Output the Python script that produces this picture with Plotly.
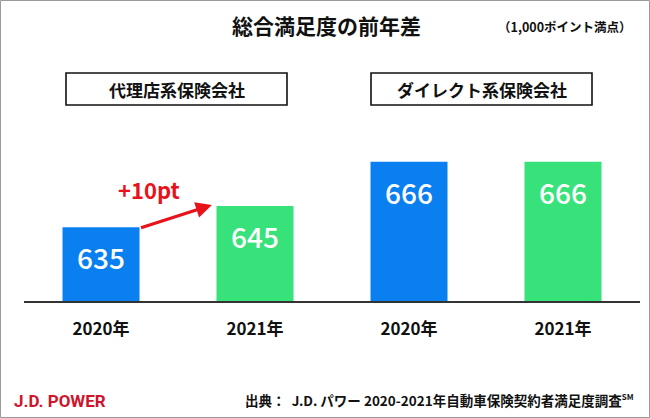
import plotly.graph_objects as go

# ---- data ----
groups = ["代理店系保険会社", "ダイレクト系保険会社"]
years = ["2020年", "2021年", "2020年", "2021年"]
scores = [635, 645, 666, 666]
bar_colors = ["#0a80f0", "#37e27b", "#0a80f0", "#37e27b"]
title_text = "総合満足度の前年差"
unit_text = "（1,000ポイント満点）"
source_text = ("出典：  J.D. パワー 2020-2021年自動車保険契約者満足度調査"
               "<sup><span style='font-size:8px'>SM</span></sup>")
brand_text = "J.D. POWER"

W, H = 650, 418
L, R, T, B = 24, 10, 90, 117
FONT = "Noto Sans CJK JP, Noto Sans, sans-serif"
BAR_W = 0.5


def px_x(p):
    return (p - L) / (W - L - R)


def px_y(p):
    return (H - B - p) / (H - T - B)


xs = list(range(len(scores)))

fig = go.Figure()
fig.add_trace(go.Bar(
    x=xs, y=scores, width=BAR_W,
    marker=dict(color=bar_colors, line=dict(width=0)),
    hoverinfo="skip", showlegend=False,
))

annotations = []
# value labels inside bars
for x, v in zip(xs, scores):
    annotations.append(dict(
        x=x, y=v, xref="x", yref="y", text=str(v), showarrow=False,
        yshift=-30, yanchor="middle", xanchor="center",
        font=dict(family=FONT, size=28, color="white", weight=500),
    ))

# arrow from 2020 to 2021 (first group)
annotations.append(dict(
    x=xs[1] - BAR_W / 2 - 0.03, y=scores[1] + 0.5, xref="x", yref="y",
    ax=xs[0] + BAR_W / 2, ay=scores[0] - 0.5, axref="x", ayref="y",
    showarrow=True, arrowhead=2, arrowsize=1.0, arrowwidth=3.2,
    arrowcolor="#e8121a", text="",
))
annotations.append(dict(
    x=px_x(149), y=px_y(189), xref="paper", yref="paper",
    text=f"+{scores[1] - scores[0]}pt", showarrow=False,
    xanchor="center", yanchor="middle",
    font=dict(family=FONT, size=22, color="#e8121a", weight="bold"),
))

# title / unit
annotations.append(dict(
    x=px_x(326), y=px_y(25), xref="paper", yref="paper", text=title_text,
    showarrow=False, xanchor="center", yanchor="middle",
    font=dict(family=FONT, size=21, color="#111111", weight="bold"),
))
annotations.append(dict(
    x=px_x(634), y=px_y(26), xref="paper", yref="paper", text=unit_text,
    showarrow=False, xanchor="right", yanchor="middle",
    font=dict(family=FONT, size=12.5, color="#111111", weight="bold"),
))

# group boxes
shapes = []
box_px = [(66, 287), (371, 592)]
for g, (x0, x1) in zip(groups, box_px):
    shapes.append(dict(
        type="rect", xref="paper", yref="paper",
        x0=px_x(x0), x1=px_x(x1), y0=px_y(105), y1=px_y(73),
        line=dict(color="#111111", width=1.6), fillcolor="white",
    ))
    annotations.append(dict(
        x=px_x((x0 + x1) / 2), y=px_y(89), xref="paper", yref="paper",
        text=g, showarrow=False, xanchor="center", yanchor="middle",
        font=dict(family=FONT, size=17, color="#111111", weight="bold"),
    ))

# footer
annotations.append(dict(
    x=px_x(12), y=px_y(401), xref="paper", yref="paper", text=brand_text,
    showarrow=False, xanchor="left", yanchor="middle",
    font=dict(family="Roboto, sans-serif", size=17,
              color="#d0142c", weight="bold"),
))
annotations.append(dict(
    x=px_x(636), y=px_y(400), xref="paper", yref="paper", text=source_text,
    showarrow=False, xanchor="right", yanchor="middle",
    font=dict(family=FONT, size=13.5, color="#111111", weight="bold"),
))

# outer border
shapes.append(dict(
    type="rect", xref="paper", yref="paper",
    x0=px_x(0.5), x1=px_x(649.5), y0=px_y(417.5), y1=px_y(0.5),
    line=dict(color="#9a9a9a", width=1),
))

fig.update_layout(
    width=W, height=H,
    margin=dict(l=L, r=R, t=T, b=B),
    paper_bgcolor="white", plot_bgcolor="white",
    xaxis=dict(
        range=[-0.5, 3.5], tickvals=xs, ticktext=years,
        showline=True, linecolor="#333333", linewidth=1.5,
        showgrid=False, zeroline=False,
        ticks="outside", ticklen=12, tickcolor="rgba(0,0,0,0)",
        tickfont=dict(family=FONT, size=17, color="#111111", weight="bold"),
    ),
    yaxis=dict(range=[600, 700], visible=False, showgrid=False, zeroline=False),
    annotations=annotations,
    shapes=shapes,
    bargap=0.5,
)

fig.write_html(
    "out.html",
    config={"displayModeBar": False},
    post_script="document.body.style.margin='0';document.body.style.overflow='hidden';",
)
